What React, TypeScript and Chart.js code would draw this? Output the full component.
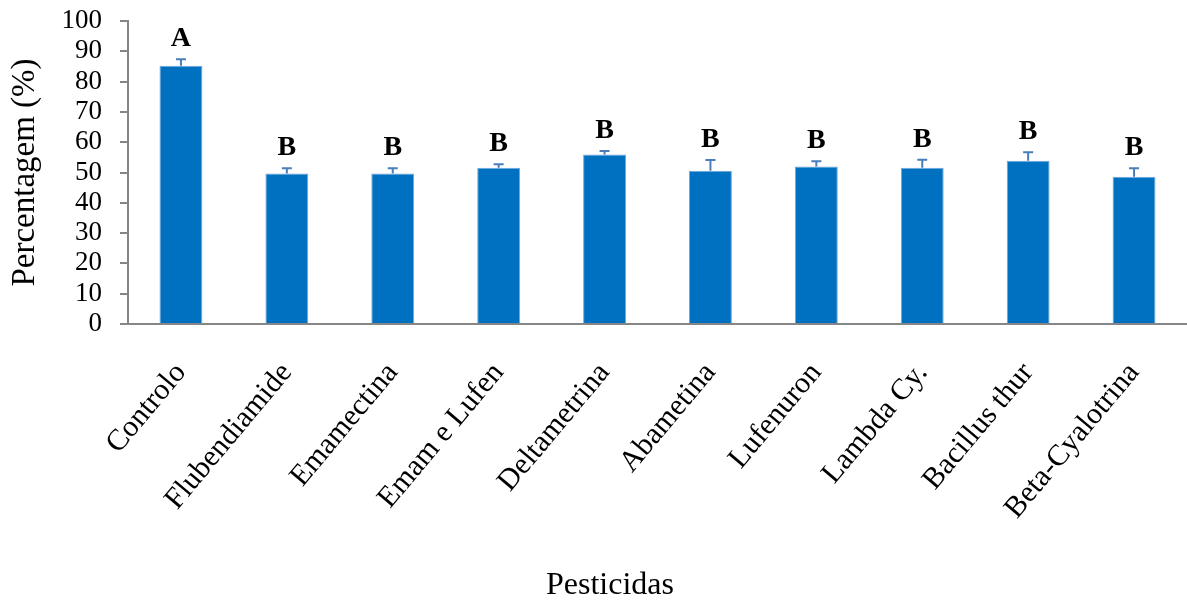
import React, { useEffect, useRef } from "react";
import { Chart, registerables } from "chart.js";

Chart.register(...registerables);

const categories = [
  "Controlo",
  "Flubendiamide",
  "Emamectina",
  "Emam e Lufen",
  "Deltametrina",
  "Abametina",
  "Lufenuron",
  "Lambda Cy.",
  "Bacillus thur",
  "Beta-Cyalotrina",
];
const means = [85.2, 49.7, 49.7, 51.6, 55.9, 50.6, 52.0, 51.6, 53.9, 48.6];
const errors = [2.2, 1.7, 1.7, 1.1, 1.2, 3.5, 1.7, 2.6, 2.8, 2.8];
const letters = ["A", "B", "B", "B", "B", "B", "B", "B", "B", "B"];
const yTitle = "Percentagem (%)";
const xTitle = "Pesticidas";

const SERIF = "'Liberation Serif', 'Times New Roman', serif";

const errorBarPlugin = {
  id: "errorBars",
  afterDatasetsDraw(chart: any) {
    const ctx = chart.ctx;
    const meta = chart.getDatasetMeta(0);
    const yScale = chart.scales.y;
    ctx.save();
    meta.data.forEach((bar: any, i: number) => {
      const x = bar.x;
      const yTop = yScale.getPixelForValue(means[i] + errors[i]);
      const yBar = yScale.getPixelForValue(means[i]);
      ctx.strokeStyle = "#4A7EBB";
      ctx.lineWidth = 2;
      ctx.beginPath();
      ctx.moveTo(x, yBar);
      ctx.lineTo(x, yTop);
      ctx.moveTo(x - 5, yTop);
      ctx.lineTo(x + 5, yTop);
      ctx.stroke();
      ctx.fillStyle = "#000";
      ctx.font = `bold 28px ${SERIF}`;
      ctx.textAlign = "center";
      ctx.textBaseline = "alphabetic";
      ctx.fillText(letters[i], x, yTop - 13);
    });
    ctx.font = `32px ${SERIF}`;
    ctx.fillStyle = "#000";
    ctx.textAlign = "center";
    ctx.textBaseline = "alphabetic";
    ctx.fillText(xTitle, 610, 594);
    ctx.restore();
  },
};

export default function App() {
  const ref = useRef<HTMLCanvasElement | null>(null);
  useEffect(() => {
    if (!ref.current) return;
    const chart = new Chart(ref.current, {
      type: "bar",
      data: {
        labels: categories,
        datasets: [
          {
            data: means,
            backgroundColor: "#0070C0",
            borderColor: "#6FA8DC",
            borderWidth: 1,
            barPercentage: 0.405,
            categoryPercentage: 1,
          },
        ],
      },
      options: {
        animation: false,
        responsive: false,
        devicePixelRatio: 1,
        layout: { padding: { top: 21, right: 0, bottom: 0, left: 0 } },
        plugins: {
          legend: { display: false },
          tooltip: { enabled: false },
        },
        scales: {
          x: {
            grid: { display: false },
            border: { display: true, color: "#868686", width: 2 },
            ticks: {
              color: "#000",
              font: { family: SERIF, size: 30 },
              maxRotation: 50,
              minRotation: 50,
              padding: 24,
              autoSkip: false,
            },
            afterFit(scale: any) {
              scale.height = 277;
            },
          },
          y: {
            min: 0,
            max: 100,
            grid: {
              display: true,
              drawOnChartArea: false,
              drawTicks: true,
              tickLength: 8,
              color: "#868686",
              lineWidth: 2,
            },
            border: { display: true, color: "#868686", width: 2 },
            ticks: {
              stepSize: 10,
              autoSkip: false,
              color: "#000",
              font: { family: SERIF, size: 27 },
              padding: 18,
            },
            title: {
              display: true,
              text: yTitle,
              color: "#000",
              font: { family: SERIF, size: 33 },
              padding: { top: 6, bottom: 0 },
            },
            afterFit(scale: any) {
              scale.width = 128;
              scale.paddingTop = 0;
              scale.paddingBottom = 0;
            },
          },
        },
      },
      plugins: [errorBarPlugin],
    });
    return () => chart.destroy();
  }, []);
  return (
    <div style={{ position: "absolute", left: 0, top: 0, width: 1187, height: 601, background: "#fff" }}>
      <canvas ref={ref} width={1187} height={601} style={{ display: "block" }} />
    </div>
  );
}
